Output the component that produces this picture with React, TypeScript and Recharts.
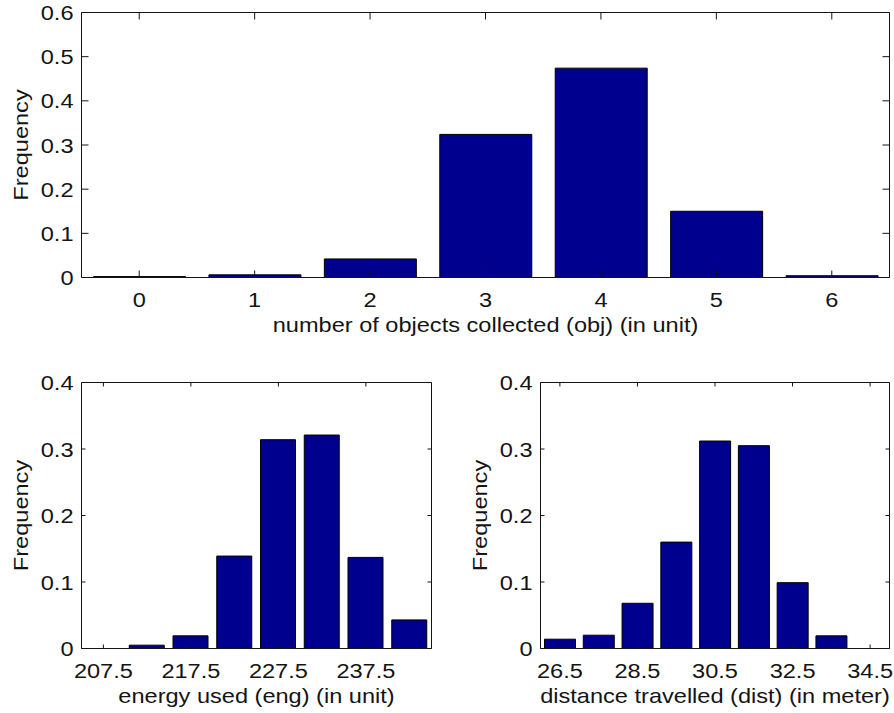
import React from 'react';
import { BarChart, Bar, XAxis, YAxis } from 'recharts';

// Text was a wide Helvetica, so Liberation Sans gets stretched a bit
const FONT = '"Liberation Sans", Arial, Helvetica, sans-serif';
const SX = 1.15;
const FONT_SIZE = 20.5;
const BAR_FILL = '#00008f';
const INK = '#141414';

// number of objects collected
const objValues = [0, 1, 2, 3, 4, 5, 6];
const objFreq = [0.002, 0.006, 0.042, 0.324, 0.474, 0.15, 0.004];
const objTicksX = [0, 1, 2, 3, 4, 5, 6];
const objTicksY = [0, 0.1, 0.2, 0.3, 0.4, 0.5, 0.6];

// energy used
const engBins = [207.5, 212.5, 217.5, 222.5, 227.5, 232.5, 237.5, 242.5];
const engFreq = [0, 0.005, 0.019, 0.139, 0.314, 0.321, 0.137, 0.043];
const engTicksX = [207.5, 217.5, 227.5, 237.5];

// distance travelled
const distBins = [26.5, 27.5, 28.5, 29.5, 30.5, 31.5, 32.5, 33.5, 34.5];
const distFreq = [0.014, 0.02, 0.068, 0.16, 0.312, 0.305, 0.099, 0.019, 0];
const distTicksX = [26.5, 28.5, 30.5, 32.5, 34.5];

const lowerTicksY = [0, 0.1, 0.2, 0.3, 0.4];

const toRows = (xs: number[], ys: number[]) => xs.map((x, i) => ({ x, freq: ys[i] }));

function WideText({ x, y, anchor, rotate, children }: any) {
    const rot = rotate ? ' rotate(-90)' : '';
    return (
        <g transform={`translate(${x},${y})${rot} scale(${SX},1)`}>
            <text x={0} y={0} textAnchor={anchor} fontFamily={FONT} fontSize={FONT_SIZE} fill={INK}>
                {children}
            </text>
        </g>
    );
}

function BottomTick({ x, y, payload, len }: any) {
    return (
        <g>
            <line x1={x} y1={y} x2={x} y2={y - len} stroke={INK} />
            <WideText x={x} y={y + 29.5} anchor="middle">{String(payload.value)}</WideText>
        </g>
    );
}

function TopTick({ x, y, len }: any) {
    return <line x1={x} y1={y} x2={x} y2={y + len} stroke={INK} />;
}

function LeftTick({ x, y, payload, len }: any) {
    return (
        <g>
            <line x1={x} y1={y} x2={x + len} y2={y} stroke={INK} />
            <WideText x={x - 8} y={y + 7.5} anchor="end">{String(payload.value)}</WideText>
        </g>
    );
}

function RightTick({ x, y, len }: any) {
    return <line x1={x} y1={y} x2={x - len} y2={y} stroke={INK} />;
}

interface PanelProps {
    left: number;
    top: number;
    width: number;
    height: number;
    plot: { top: number; right: number; bottom: number; left: number }; // plot box inside the panel
    data: { x: number; freq: number }[];
    xDomain: [number, number];
    xTicks: number[];
    yDomain: [number, number];
    yTicks: number[];
    barSize: number;
    tickLen: number;
    xLabel: string;
}

function Panel(p: PanelProps) {
    // axes take 1px each (a 0px axis is not drawn), so the margin is 1px smaller
    const margin = {
        top: p.plot.top - 1,
        left: p.plot.left - 1,
        right: p.width - p.plot.right - 1,
        bottom: p.height - p.plot.bottom - 1,
    };
    const plotW = p.plot.right - p.plot.left;
    const plotH = p.plot.bottom - p.plot.top;
    const axisCommon = {
        type: 'number' as const,
        allowDataOverflow: true,
        interval: 0 as const,
        tickSize: 0,
        tickMargin: 0,
        tickLine: false,
        axisLine: { stroke: INK, strokeWidth: 1 },
    };

    return (
        <div style={{ position: 'absolute', left: p.left, top: p.top, width: p.width, height: p.height }}>
            <BarChart width={p.width} height={p.height} data={p.data} margin={margin}>
                <XAxis
                    {...axisCommon}
                    xAxisId="b"
                    dataKey="x"
                    domain={p.xDomain}
                    ticks={p.xTicks}
                    height={1}
                    tick={(t: any) => <BottomTick {...t} len={p.tickLen} />}
                />
                <XAxis
                    {...axisCommon}
                    xAxisId="t"
                    orientation="top"
                    dataKey="x"
                    domain={p.xDomain}
                    ticks={p.xTicks}
                    height={1}
                    tick={(t: any) => <TopTick {...t} len={p.tickLen} />}
                />
                <YAxis
                    {...axisCommon}
                    yAxisId="l"
                    domain={p.yDomain}
                    ticks={p.yTicks}
                    width={1}
                    tick={(t: any) => <LeftTick {...t} len={p.tickLen} />}
                />
                <YAxis
                    {...axisCommon}
                    yAxisId="r"
                    orientation="right"
                    domain={p.yDomain}
                    ticks={p.yTicks}
                    width={1}
                    tick={(t: any) => <RightTick {...t} len={p.tickLen} />}
                />
                <Bar
                    xAxisId="b"
                    yAxisId="l"
                    dataKey="freq"
                    fill={BAR_FILL}
                    stroke="#000"
                    strokeWidth={1}
                    barSize={p.barSize}
                    isAnimationActive={false}
                />
            </BarChart>
            <svg
                width={p.width}
                height={p.height}
                style={{ position: 'absolute', left: 0, top: 0, pointerEvents: 'none' }}
            >
                <WideText x={p.plot.left + plotW / 2} y={p.plot.bottom + 54} anchor="middle">
                    {p.xLabel}
                </WideText>
                <WideText x={p.plot.left - 53.5} y={p.plot.top + plotH / 2} anchor="middle" rotate>
                    Frequency
                </WideText>
            </svg>
        </div>
    );
}

export default function App() {
    return (
        <div style={{ position: 'absolute', left: 0, top: 0, width: 894, height: 713, background: '#fff' }}>
            <Panel
                left={0}
                top={0}
                width={894}
                height={350}
                plot={{ top: 12.5, right: 889.5, bottom: 277.5, left: 81.5 }}
                data={toRows(objValues, objFreq)}
                xDomain={[-0.5, 6.5]}
                xTicks={objTicksX}
                yDomain={[0, 0.6]}
                yTicks={objTicksY}
                barSize={92}
                tickLen={7}
                xLabel="number of objects collected (obj) (in unit)"
            />
            <Panel
                left={0}
                top={350}
                width={450}
                height={363}
                plot={{ top: 32.5, right: 431.5, bottom: 298.5, left: 81.5 }}
                data={toRows(engBins, engFreq)}
                xDomain={[205, 245]}
                xTicks={engTicksX}
                yDomain={[0, 0.4]}
                yTicks={lowerTicksY}
                barSize={35}
                tickLen={4}
                xLabel="energy used (eng) (in unit)"
            />
            <Panel
                left={450}
                top={350}
                width={444}
                height={363}
                plot={{ top: 32.5, right: 439.5, bottom: 298.5, left: 90.5 }}
                data={toRows(distBins, distFreq)}
                xDomain={[26, 35]}
                xTicks={distTicksX}
                yDomain={[0, 0.4]}
                yTicks={lowerTicksY}
                barSize={31}
                tickLen={4}
                xLabel="distance travelled (dist) (in meter)"
            />
        </div>
    );
}
